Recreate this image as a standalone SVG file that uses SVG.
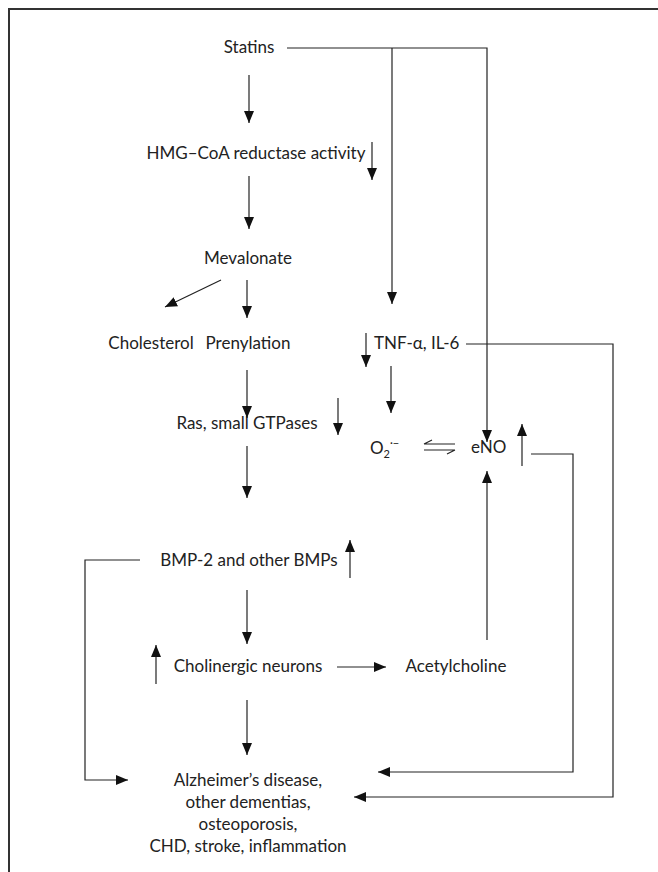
<svg xmlns="http://www.w3.org/2000/svg" width="658" height="872" viewBox="0 0 658 872">
<style>
text{font-family:Lato,"Open Sans",sans-serif;font-size:17px;fill:#222}
.c{text-anchor:middle}
.l{fill:none;stroke:#222;stroke-width:1.2}
</style>
<defs>
<marker id="a" markerUnits="userSpaceOnUse" markerWidth="12" markerHeight="10" refX="12" refY="5" orient="auto">
<path d="M0,0L12,5L0,10z" fill="#111"/>
</marker>
</defs>
<rect width="658" height="872" fill="#fff"/>
<path d="M9,872V9H658" fill="none" stroke="#333" stroke-width="2"/>
<g id="nodes">
<g id="statins"><text x="249" y="53" class="c">Statins</text></g>
<g id="hmg"><text x="256" y="159" class="c">HMG–CoA reductase activity</text></g>
<g id="mevalonate"><text x="248" y="264" class="c">Mevalonate</text></g>
<g id="cholesterol"><text x="151" y="349" class="c">Cholesterol</text></g>
<g id="prenylation"><text x="248" y="349" class="c">Prenylation</text></g>
<g id="tnf"><text x="374" y="349">TNF-α, IL-6</text></g>
<g id="ras"><text x="247" y="429" class="c">Ras, small GTPases</text></g>
<g id="o2"><text x="370" y="454">O<tspan font-size="11" dy="4">2</tspan><tspan font-size="11" dy="-11">·−</tspan></text></g>
<g id="eno"><text x="471" y="453">eNO</text></g>
<g id="bmp"><text x="249" y="566" class="c">BMP-2 and other BMPs</text></g>
<g id="cholinergic"><text x="248" y="672" class="c">Cholinergic neurons</text></g>
<g id="acetylcholine"><text x="456" y="672" class="c">Acetylcholine</text></g>
<g id="diseases">
<text x="248" y="786" class="c">Alzheimer’s disease,</text>
<text x="248" y="808" class="c">other dementias,</text>
<text x="248" y="830" class="c">osteoporosis,</text>
<text x="248" y="852" class="c">CHD, stroke, inflammation</text>
</g>
</g>
<g id="connectors" class="l">
<path class="l" d="M249,75V123" marker-end="url(#a)"/>
<path class="l" d="M372,142V180" marker-end="url(#a)"/>
<path class="l" d="M249,176V229" marker-end="url(#a)"/>
<path class="l" d="M221,280L165,307" marker-end="url(#a)"/>
<path class="l" d="M247,280V318" marker-end="url(#a)"/>
<path class="l" d="M287,48H487V442" marker-end="url(#a)"/>
<path class="l" d="M392,48V304" marker-end="url(#a)"/>
<path class="l" d="M366,333V367" marker-end="url(#a)"/>
<path class="l" d="M466,344H613V797H354" marker-end="url(#a)"/>
<path class="l" d="M247,370V418" marker-end="url(#a)"/>
<path class="l" d="M338,398V435" marker-end="url(#a)"/>
<path class="l" d="M391,366V413" marker-end="url(#a)"/>
<path class="l" d="M424,444H455M424,444L432,440M424,450H455M455,450L447,454"/>
<path class="l" d="M522,466V424" marker-end="url(#a)"/>
<path class="l" d="M531,454H573V772H378" marker-end="url(#a)"/>
<path class="l" d="M247,446V498" marker-end="url(#a)"/>
<path class="l" d="M350,578V540" marker-end="url(#a)"/>
<path class="l" d="M140,560H85V780H128" marker-end="url(#a)"/>
<path class="l" d="M247,590V644" marker-end="url(#a)"/>
<path class="l" d="M156,684V645" marker-end="url(#a)"/>
<path class="l" d="M337,667H386" marker-end="url(#a)"/>
<path class="l" d="M487,640V471" marker-end="url(#a)"/>
<path class="l" d="M247,700V755" marker-end="url(#a)"/>
</g>
</svg>
